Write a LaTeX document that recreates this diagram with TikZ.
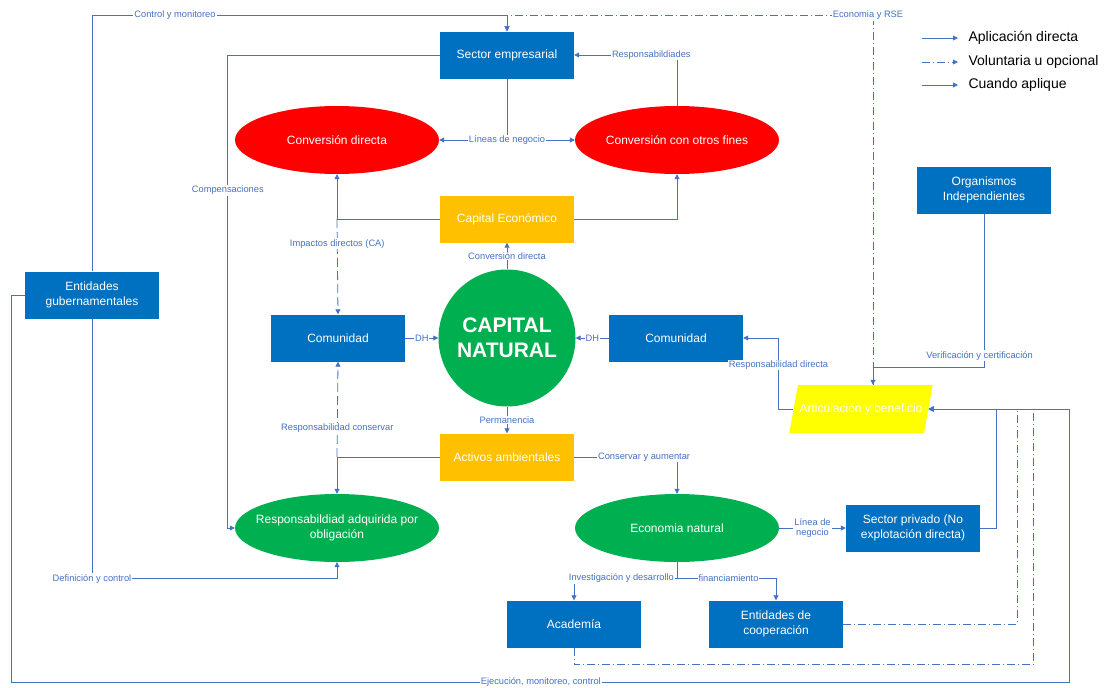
\documentclass[tikz,border=0pt]{standalone}
\usepackage{fontspec}
\setmainfont{Liberation Sans}
\usetikzlibrary{shapes.geometric,arrows.meta}
\definecolor{azul}{HTML}{0070C0}
\definecolor{trazo}{HTML}{4472C4}
\definecolor{rojo}{HTML}{FF0000}
\definecolor{verde}{HTML}{00B050}
\definecolor{naranja}{HTML}{FFC000}
\definecolor{amarillo}{HTML}{FFFF00}

\begin{document}
\begin{tikzpicture}[x=1pt,y=-1pt,
  >={Triangle[length=5pt,width=5pt]},
  caja/.style={fill=azul,text=white,minimum width=134pt,minimum height=47pt,inner sep=2pt,align=center,font=\fontsize{12}{15}\selectfont},
  capital/.style={caja,fill=naranja},
  ovalo/.style={ellipse,text=white,minimum width=204pt,minimum height=68pt,inner sep=0pt,align=center,font=\fontsize{12}{15}\selectfont},
  flujo/.style={draw=trazo,line width=0.8pt},
  opcion/.style={flujo,dash pattern=on 8pt off 3pt on 1pt off 3pt},
  aplica/.style={flujo,dash pattern=on 9pt off 4pt},
  etiq/.style={fill=white,text=trazo,inner sep=1pt,align=center,font=\fontsize{9.3}{10.5}\selectfont},
  leyenda/.style={anchor=west,font=\fontsize{14}{16}\selectfont}]
\useasboundingbox (0,0) rectangle (1106,688);

% nodos
\node[caja] (sector) at (507,55) {Sector empresarial};
\node[ovalo,fill=rojo] (convd) at (337,140) {Conversión directa};
\node[ovalo,fill=rojo] (convo) at (677,140) {Conversión con otros fines};
\node[capital] (capeco) at (507,219) {Capital Económico};
\node[circle,fill=verde,text=white,minimum size=137pt,inner sep=0pt,align=center,font=\fontsize{21}{25}\selectfont\bfseries] (capnat) at (507,338) {CAPITAL\\NATURAL};
\node[caja] (comL) at (338,338) {Comunidad};
\node[caja] (comR) at (676,338) {Comunidad};
\node[capital] (activos) at (507,457) {Activos ambientales};
\node[ovalo,fill=verde] (resp) at (337,528) {\makebox[100pt][c]{Responsabildiad adquirida por}\\obligación};
\node[ovalo,fill=verde] (econ) at (677,528) {Economia natural};
\node[caja] (privado) at (913,528) {Sector privado (No\\explotación directa)};
\node[caja] (acad) at (574,624) {Academía};
\node[caja] (coop) at (776,624) {Entidades de\\cooperación};
\node[caja] (gob) at (92,295) {Entidades\\gubernamentales};
\node[caja] (org) at (984,190) {Organismos\\Independientes};
\node[trapezium,trapezium left angle=70,trapezium right angle=110,trapezium stretches=true,
  fill=amarillo,text=white,minimum width=144pt,minimum height=48pt,inner sep=0pt,
  font=\fontsize{12}{15}\selectfont] (art) at (861,409) {\makebox[60pt][c]{Articulación y beneficio}};

% leyenda
\node[leyenda] (ley1) at (965,38) {Aplicación directa};
\node[leyenda] (ley2) at (965,62) {Voluntaria u opcional};
\node[leyenda] (ley3) at (965,85) {Cuando aplique};
\draw[flujo,->] ([xshift=-43pt]ley1.west) -- ([xshift=-7pt]ley1.west);
\draw[opcion,->] ([xshift=-43pt]ley2.west) -- ([xshift=-7pt]ley2.west);
\draw[flujo,->] ([xshift=-43pt]ley3.west) -- ([xshift=-7pt]ley3.west);

% conexiones
\draw[flujo,->] (gob.north) |- node[etiq,pos=0.6]{Control y monitoreo} ([yshift=16pt]sector.north) -- (sector.north);
\draw[opcion,->] ([xshift=12pt]art.north) |- node[etiq,pos=0.5,xshift=-5pt]{Economia y RSE} ([yshift=16pt]sector.north) -- (sector.north);
\draw[flujo,->] (org.south) -- ++(0,154) -| node[etiq,pos=0.02,yshift=12pt]{Verificación y certificación} ([xshift=12pt]art.north);
\draw[flujo,->] (sector.west) -- ++(-212,0) |- node[etiq,pos=0.143]{Compensaciones} (resp.west);
\draw[flujo] (sector.south) -- (sector.south |- convd.east);
\draw[flujo,<->] (convd.east) -- node[etiq]{Líneas de negocio} (convo.west);
\draw[flujo,->] (convo.north) |- node[etiq,pos=0.625]{Responsabildiades} (sector.east);
\draw[flujo,->] (capeco.west) -| (convd.south);
\draw[flujo,->] (capeco.east) -| (convo.south);
\draw[aplica,->] (capeco.west -| convd.south) -- node[etiq,pos=0.26]{Impactos directos (CA)} (comL.north);
\draw[flujo,->] (capnat.north) -- node[etiq]{Conversión directa} (capeco.south);
\draw[flujo,->] (comL.east) -- node[etiq]{DH} (capnat.west);
\draw[flujo,->] (comR.west) -- node[etiq]{DH} (capnat.east);
\draw[flujo,->] (capnat.south) -- node[etiq]{Permanencia} (activos.north);
\draw[flujo,->] (activos.west) -| (resp.north);
\draw[aplica,->] (activos.west -| resp.north) -- node[etiq,pos=0.3]{Responsabilidad conservar} (comL.south);
\draw[flujo,->] (activos.east) -| node[etiq,pos=0.34]{Conservar y aumentar} (econ.north);
\draw[flujo,->] (econ.east) -- node[etiq]{Línea de\\negocio} (privado.west);
\draw[flujo,->] (econ.south) -- ++(0,16) -| node[etiq,pos=0.27]{Investigación y desarrollo} (acad.north);
\draw[flujo,->] (econ.south) -- ++(0,16) -| node[etiq,pos=0.26]{financiamiento} (coop.north);
\draw[flujo,->] (art.west) -- ++(-15,0) |- node[etiq,pos=0.31]{Responsabilidad directa} (comR.east);
\draw[flujo,->] (privado.east) -- ++(16,0) |- (art.east);
\draw[opcion,->] (coop.east) -- ++(174,0) |- (art.east);
\draw[opcion,->] (acad.south) -- ++(0,17) -- ++(459,0) |- (art.east);
\draw[flujo,->] (gob.south) -- ++(0,260) node[etiq]{Definición y control} -| (resp.south);
\draw[flujo,->] (gob.west) -- ++(-13,0) -- ++(0,387) -- node[etiq]{Ejecución, monitoreo, control} ++(1058,0) |- (art.east);
\end{tikzpicture}
\end{document}
